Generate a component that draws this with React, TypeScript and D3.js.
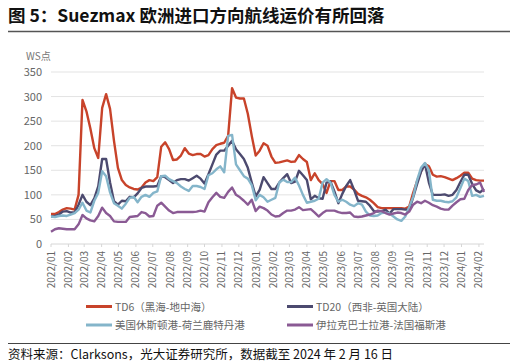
import React from "react";
import * as d3 from "d3";

// weekly observations, first week 2022-01-01, last 2024-02-10
const startDate = "2022-01-01";

const td6 = [
  61, 61, 65, 70, 73, 72, 70, 100, 293, 270, 235, 195, 175, 277, 305, 275, 210, 155, 130, 120,
  115, 112, 111, 115, 125, 130, 128, 136, 198, 207, 193, 171, 172, 180, 195, 184, 181, 183, 183, 178,
  181, 193, 201, 204, 206, 220, 317, 298, 296, 296, 265, 220, 180, 190, 205, 200, 178, 165, 166, 168,
  170, 167, 168, 181, 173, 167, 130, 144, 130, 122, 104, 128, 128, 110, 110, 117, 117, 111, 102, 98,
  95, 90, 83, 75, 73, 73, 73, 73, 73, 73, 72, 76, 104, 128, 148, 163, 158, 141, 137, 138,
  136, 133, 130, 134, 139, 145, 145, 133, 130, 129, 129,
];

const td20 = [
  56, 57, 60, 66, 67, 64, 64, 80, 100, 86, 79, 93, 117, 173, 173, 125, 87, 80, 88, 87,
  96, 95, 103, 114, 117, 117, 117, 118, 138, 136, 130, 124, 130, 132, 132, 129, 134, 139, 133, 123,
  142, 162, 182, 190, 190, 200, 210, 193, 183, 173, 155, 125, 97, 110, 136, 124, 112, 112, 125, 134,
  142, 124, 127, 149, 140, 130, 91, 98, 93, 92, 125, 127, 107, 83, 102, 118, 130, 110, 88, 87,
  86, 78, 67, 66, 67, 70, 62, 71, 71, 71, 70, 70, 95, 122, 147, 163, 125, 100, 100, 100,
  101, 98, 100, 110, 126, 141, 141, 122, 109, 105, 112,
];

const houstonRotterdam = [
  56, 55, 57, 58, 57, 60, 63, 70, 84, 68, 64, 88, 104, 148, 138, 105, 83, 78, 72, 82,
  94, 96, 85, 96, 100, 96, 104, 107, 138, 139, 132, 128, 124, 117, 112, 108, 118, 118, 116, 112,
  140, 144, 152, 158, 146, 220, 222, 162, 150, 138, 133, 120, 89, 100, 95, 86, 90, 94, 125, 131,
  126, 126, 135, 119, 100, 84, 86, 88, 92, 125, 132, 125, 100, 86, 90, 86, 80, 77, 83, 80,
  66, 58, 57, 58, 63, 64, 62, 56, 50, 47, 56, 75, 96, 130, 155, 165, 150, 90, 88, 88,
  86, 85, 87, 95, 114, 133, 128, 98, 100, 96, 98,
];

const basrahFos = [
  25, 30, 32, 31, 30, 30, 30, 40, 59, 52, 48, 46, 57, 74, 63, 57, 46, 45, 45, 45,
  55, 56, 57, 65, 63, 56, 57, 78, 84, 76, 68, 63, 65, 65, 65, 65, 65, 66, 68, 66,
  85, 95, 104, 96, 94, 106, 115, 100, 95, 88, 80, 90, 67, 76, 73, 68, 60, 56, 57, 63,
  68, 68, 70, 75, 69, 70, 71, 64, 56, 63, 68, 68, 68, 65, 63, 63, 64, 56, 55, 56,
  58, 60, 63, 68, 67, 63, 60, 62, 64, 63, 60, 66, 80, 86, 83, 88, 84, 79, 76, 72,
  70, 70, 78, 85, 91, 92, 110, 120, 121, 125, 106,
];

const yTicks = [0, 50, 100, 150, 200, 250, 300, 350];

const seriesList = [
  { name: "TD6（黑海-地中海）", values: td6, color: "#c8432a" },
  { name: "TD20（西非-英国大陆）", values: td20, color: "#4c4a6f" },
  { name: "美国休斯顿港-荷兰鹿特丹港", values: houstonRotterdam, color: "#84b5ca" },
  { name: "伊拉克巴士拉港-法国福斯港", values: basrahFos, color: "#8a5a94" },
];

const font = "'Noto Sans CJK SC', 'Noto Sans', sans-serif";

export default function App() {
  const width = 516;
  const height = 364;
  const margin = { left: 51, right: 32, top: 72, bottom: 120 };

  const start = new Date(startDate + "T00:00:00");
  const dates = td6.map((_, i) => d3.timeDay.offset(start, i * 7));

  const x = d3
    .scaleTime()
    .domain([start, dates[dates.length - 1]])
    .range([margin.left, width - margin.right]);

  const y = d3
    .scaleLinear()
    .domain([0, 350])
    .range([height - margin.bottom, margin.top]);

  const months = d3.timeMonth.range(start, new Date("2024-02-02T00:00:00"));

  const line = d3
    .line<number>()
    .x((_, i) => x(dates[i]))
    .y(d => y(d));

  return (
    <svg
      width={width}
      height={height}
      style={{ position: "absolute", left: 0, top: 0, background: "#fff" }}
      fontFamily={font}
    >
      <text x={8} y={22} fontSize={17.5} fontWeight="bold" fill="#111">
        图 5：Suezmax 欧洲进口方向航线运价有所回落
      </text>
      <line x1={8} x2={510} y1={31.5} y2={31.5} stroke="#555" strokeWidth={1.3} />

      <text x={26} y={60} fontSize={10} fill="#777">
        WS点
      </text>

      {/* grid + y labels */}
      {yTicks.map(t => (
        <g key={t}>
          {t > 0 && (
            <line
              x1={margin.left}
              x2={width - margin.right}
              y1={y(t)}
              y2={y(t)}
              stroke="#e3e3e3"
              strokeWidth={1}
            />
          )}
          <text x={42} y={y(t) + 4} fontSize={11} fill="#666" textAnchor="end">
            {t}
          </text>
        </g>
      ))}

      {/* x axis */}
      <line
        x1={margin.left}
        x2={width - margin.right}
        y1={y(0)}
        y2={y(0)}
        stroke="#d6d6d6"
        strokeWidth={1}
      />
      {months.map((m, i) => (
        <g key={i} transform={`translate(${x(m)},${y(0)})`}>
          <line y2={3} stroke="#d6d6d6" />
          <text
            transform="rotate(-90)"
            x={-7}
            y={3.5}
            fontSize={10}
            fill="#666"
            textAnchor="end"
          >
            {d3.timeFormat("%Y/%m")(m)}
          </text>
        </g>
      ))}

      {/* lines */}
      {seriesList.map(s => (
        <path
          key={s.name}
          d={line(s.values) || ""}
          fill="none"
          stroke={s.color}
          strokeWidth={2.4}
          strokeLinejoin="round"
        />
      ))}

      {/* legend */}
      {seriesList.map((s, i) => {
        const lx = i % 2 === 0 ? 86 : 287;
        const ly = i < 2 ? 306.5 : 325;
        return (
          <g key={s.name}>
            <line x1={lx} x2={lx + 26} y1={ly} y2={ly} stroke={s.color} strokeWidth={3} />
            <text x={lx + 29} y={ly + 4} fontSize={10.5} fill="#666">
              {s.name}
            </text>
          </g>
        );
      })}

      <line x1={8} x2={510} y1={343.5} y2={343.5} stroke="#444" strokeWidth={1.2} />
      <text x={8} y={359} fontSize={12.5} fill="#111">
        资料来源：Clarksons，光大证券研究所，数据截至 2024 年 2 月 16 日
      </text>
    </svg>
  );
}
